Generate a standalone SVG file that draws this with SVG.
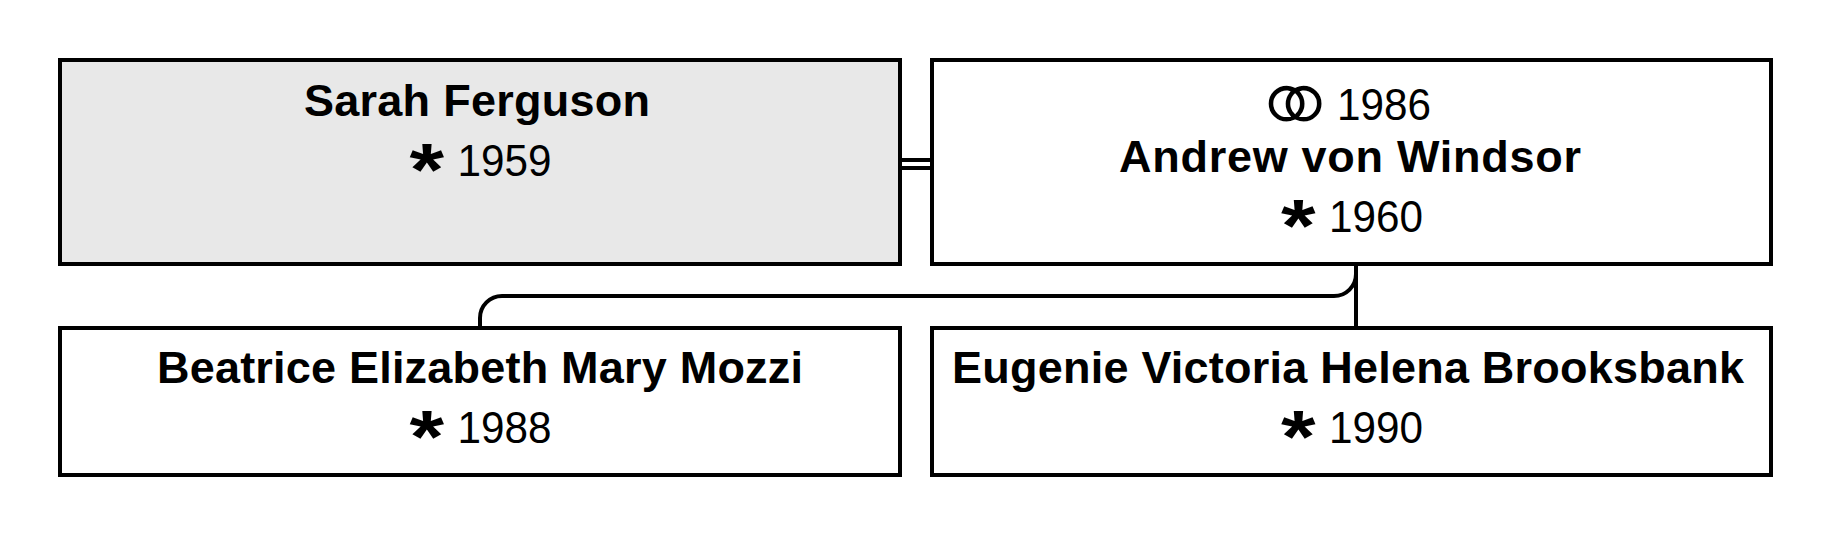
<svg xmlns="http://www.w3.org/2000/svg" width="1836" height="540" viewBox="0 0 1836 540">
<style>
.box{fill:#fff;stroke:#000;stroke-width:4}
.g{fill:#e8e8e8}
.n{font:bold 45px "Liberation Sans",Arial,sans-serif;fill:#000}
.y{font:44px "Liberation Sans",Arial,sans-serif;fill:#000}
.s{font:bold 74px "Liberation Sans",Arial,sans-serif;fill:#000}
.r{font:116px "DejaVu Sans",sans-serif;fill:#000;stroke:#fff;stroke-width:4}
.c{fill:none;stroke:#000;stroke-width:4}
</style>
<rect width="1836" height="540" fill="#fff"/>
<g id="connectors">
<path class="c" d="M900 160H932M900 168H932"/>
<path class="c" d="M1356 264V274A22 22 0 0 1 1334 296H502A22 22 0 0 0 480 318V328"/>
<path class="c" d="M1356 264V328"/>
</g>
<g id="sarah"><rect class="box g" x="60" y="60" width="840" height="204"/>
<text class="n" x="304" y="116" textLength="346" lengthAdjust="spacing">Sarah Ferguson</text>
<text class="s" transform="translate(409.5 194.6) scale(1.2 1)">*</text>
<text class="y" x="457.5" y="175.5" textLength="94" lengthAdjust="spacingAndGlyphs">1959</text></g>
<g id="andrew"><rect class="box" x="932" y="60" width="839" height="204"/>
<text class="r" x="1246.5" y="146">⚭</text>
<text class="y" x="1337" y="119.5" textLength="94" lengthAdjust="spacingAndGlyphs">1986</text>
<text class="n" x="1119" y="172" textLength="462" lengthAdjust="spacing">Andrew von Windsor</text>
<text class="s" transform="translate(1281 250.6) scale(1.2 1)">*</text>
<text class="y" x="1329" y="231.5" textLength="94" lengthAdjust="spacingAndGlyphs">1960</text></g>
<g id="beatrice"><rect class="box" x="60" y="328" width="840" height="147"/>
<text class="n" x="157" y="383" textLength="646" lengthAdjust="spacing">Beatrice Elizabeth Mary Mozzi</text>
<text class="s" transform="translate(409.5 461.6) scale(1.2 1)">*</text>
<text class="y" x="457.5" y="442.5" textLength="94" lengthAdjust="spacingAndGlyphs">1988</text></g>
<g id="eugenie"><rect class="box" x="932" y="328" width="839" height="147"/>
<text class="n" x="952" y="383" textLength="792" lengthAdjust="spacing">Eugenie Victoria Helena Brooksbank</text>
<text class="s" transform="translate(1281 461.6) scale(1.2 1)">*</text>
<text class="y" x="1329" y="442.5" textLength="94" lengthAdjust="spacingAndGlyphs">1990</text></g>
</svg>
